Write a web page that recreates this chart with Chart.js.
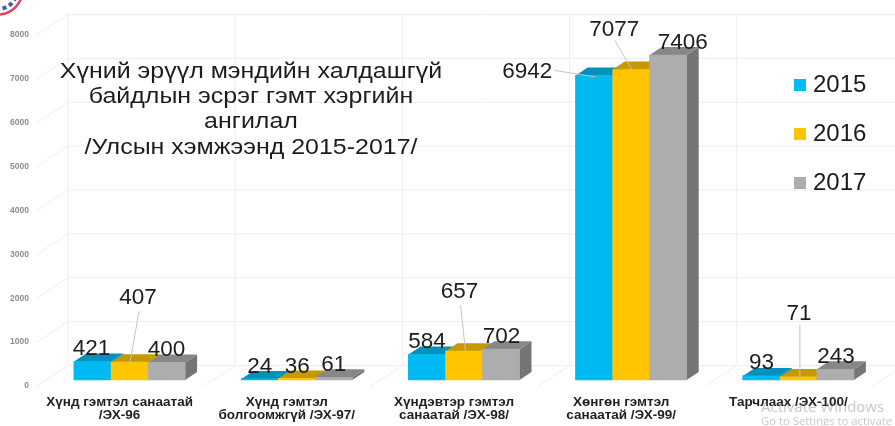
<!DOCTYPE html>
<html>
<head>
<meta charset="utf-8">
<script src="https://cdn.jsdelivr.net/npm/chart.js@4"></script>
<style>
html, body { margin: 0; padding: 0; background: #fff; }
canvas { display: block; }
</style>
</head>
<body>
<canvas id="myChart" width="895" height="426"></canvas>
<script>
var categories = [
    ["Хүнд гэмтэл санаатай", "/ЭХ-96"],
    ["Хүнд гэмтэл", "болгоомжгүй /ЭХ-97/"],
    ["Хүндэвтэр гэмтэл", "санаатай /ЭХ-98/"],
    ["Хөнгөн гэмтэл", "санаатай /ЭХ-99/"],
    "Тарчлаах /ЭХ-100/"
];
var years = ["2015", "2016", "2017"];
var values2015 = [421, 24, 584, 6942, 93];
var values2016 = [407, 36, 657, 7077, 71];
var values2017 = [400, 61, 702, 7406, 243];
var titleLines = [
    "Хүний эрүүл мэндийн халдашгүй",
    "байдлын эсрэг гэмт хэргийн",
    "ангилал",
    "/Улсын хэмжээнд 2015-2017/"
];
var watermark = ["Activate Windows", "Go to Settings to activate"];

// front, top and side colour of each series
var frontColors = ["#00b8f2", "#ffc600", "#adadad"];
var topColors = ["#0091bd", "#c49a00", "#878787"];
var sideColors = ["#0091bd", "#c49a00", "#757575"];

var depthX = 12;
var depthY = 8;

// label centre relative to the top centre of its bar
var labelOffsets = [
    [[-1, -12.5], [0, -12], [0, -12.7], [-67, -4], [0, -13]],
    [[8.5, -64], [0.5, -11.5], [-4.5, -59], [-17, -40], [0.5, -63]],
    [[0, -12.5], [0, -12.3], [0.5, -12.5], [14.5, -12], [0.5, -12.5]]
];
// leader lines: series, category, start relative to the label, end relative to the bar top
var leaders = [
    [1, 0, [1, 13], [0.5, -0.5]],
    [1, 2, [1, 13], [1.5, -0.5]],
    [0, 3, [27, -1], [1.5, 1.5]],
    [1, 3, [0.5, 11], [0.5, -0.5]],
    [1, 4, [1, 11], [1.5, 0]]
];

function drawWalls(chart) {
    var c = chart.ctx;
    var y = chart.scales.y;
    var x = chart.scales.x;
    var wallX = 68;
    var wallTop = y.getPixelForValue(8000) - 14.5;
    var wallBottom = y.getPixelForValue(0) - 14.5;
    c.save();
    c.strokeStyle = "#eeeeee";
    c.lineWidth = 1;
    c.beginPath();
    y.ticks.forEach(function (t) {
        var py = y.getPixelForValue(t.value);
        c.moveTo(36, py + 6.5);
        c.lineTo(wallX, py - 14.5);
        c.lineTo(chart.width, py - 14.5);
    });
    var band = x.getPixelForValue(1) - x.getPixelForValue(0);
    for (var i = 0; i <= categories.length; i++) {
        var wx = wallX + band * i;
        c.moveTo(wx, wallTop);
        c.lineTo(wx, wallBottom);
        c.moveTo(wx, wallBottom);
        c.lineTo(wx - 32, wallBottom + 21);
    }
    c.stroke();
    c.restore();
}

// 2015 first, so each later series covers what sticks out of the one before
function drawBars(chart) {
    var c = chart.ctx;
    chart.data.datasets.forEach(function (ds, index) {
        chart.getDatasetMeta(index).data.forEach(function (bar) {
            var x0 = bar.x - bar.width / 2;
            var x1 = bar.x + bar.width / 2;
            c.fillStyle = sideColors[index];
            c.beginPath();
            c.moveTo(x1, bar.y);
            c.lineTo(x1 + depthX, bar.y - depthY);
            c.lineTo(x1 + depthX, bar.base - depthY);
            c.lineTo(x1, bar.base);
            c.closePath();
            c.fill();
            c.fillStyle = topColors[index];
            c.beginPath();
            c.moveTo(x0, bar.y);
            c.lineTo(x0 + depthX, bar.y - depthY);
            c.lineTo(x1 + depthX, bar.y - depthY);
            c.lineTo(x1, bar.y);
            c.closePath();
            c.fill();
            bar.draw(c);
        });
    });
}

function drawLabels(chart) {
    var c = chart.ctx;
    c.save();
    c.strokeStyle = "#c4c4c4";
    c.lineWidth = 1;
    leaders.forEach(function (l) {
        var bar = chart.getDatasetMeta(l[0]).data[l[1]];
        var off = labelOffsets[l[0]][l[1]];
        c.beginPath();
        c.moveTo(bar.x + off[0] + l[2][0], bar.y + off[1] + l[2][1]);
        c.lineTo(bar.x + l[3][0], bar.y + l[3][1]);
        c.stroke();
    });
    c.fillStyle = "#1c1c1c";
    c.font = "22.5px 'Liberation Sans', Arial, sans-serif";
    c.textAlign = "center";
    c.textBaseline = "middle";
    chart.data.datasets.forEach(function (ds, i) {
        chart.getDatasetMeta(i).data.forEach(function (bar, j) {
            var off = labelOffsets[i][j];
            c.fillText(ds.data[j], bar.x + off[0], bar.y + off[1]);
        });
    });
    c.restore();
}

function drawTitle(chart) {
    var c = chart.ctx;
    c.save();
    c.translate(251, 0);
    c.scale(1.135, 1);
    c.fillStyle = "#1c1c1c";
    c.font = "22px 'Liberation Sans', Arial, sans-serif";
    c.textAlign = "center";
    c.textBaseline = "middle";
    titleLines.forEach(function (line, i) {
        c.fillText(line, 0, 72 + i * 25.2);
    });
    c.restore();
}

function drawLegend(chart) {
    var c = chart.ctx;
    c.save();
    c.textAlign = "left";
    c.textBaseline = "middle";
    c.font = "24px 'Liberation Sans', Arial, sans-serif";
    chart.data.datasets.forEach(function (ds, i) {
        var ly = 85 + i * 49;
        c.fillStyle = ds.backgroundColor;
        c.fillRect(794, ly - 6, 12, 12);
        c.fillStyle = "#1c1c1c";
        c.fillText(ds.label, 813, ly);
    });
    c.restore();
}

function drawExtras(chart) {
    var c = chart.ctx;
    c.save();
    // corner of the logo
    c.lineWidth = 2.5;
    c.strokeStyle = "#e8415f";
    c.beginPath();
    c.arc(-2, -10, 24.5, 0, Math.PI);
    c.stroke();
    c.lineWidth = 4;
    c.strokeStyle = "#3a62ad";
    c.setLineDash([4, 3]);
    c.beginPath();
    c.arc(-2, -10, 19, 0, Math.PI);
    c.stroke();
    c.setLineDash([]);
    // watermark
    c.fillStyle = "rgba(130,130,130,0.45)";
    c.textAlign = "left";
    c.textBaseline = "middle";
    c.font = "15px 'Open Sans', sans-serif";
    c.fillText(watermark[0], 761, 407.5);
    c.font = "11.3px 'Open Sans', sans-serif";
    c.fillText(watermark[1], 761, 422);
    c.restore();
}

var wallsAndFaces = {
    id: "wallsAndFaces",
    beforeDatasetsDraw: function (chart) {
        drawWalls(chart);
    },
    afterDatasetsDraw: function (chart) {
        drawBars(chart);
        drawLabels(chart);
        drawTitle(chart);
        drawLegend(chart);
        drawExtras(chart);
    }
};

var ctx = document.getElementById("myChart").getContext("2d");
var myChart = new Chart(ctx, {
    type: "bar",
    plugins: [wallsAndFaces],
    data: {
        labels: categories,
        datasets: [
            { label: years[0], data: values2015, backgroundColor: frontColors[0], barThickness: 37 },
            { label: years[1], data: values2016, backgroundColor: frontColors[1], barThickness: 37 },
            { label: years[2], data: values2017, backgroundColor: frontColors[2], barThickness: 37 }
        ]
    },
    options: {
        responsive: false,
        animation: false,
        layout: { padding: { top: 29, right: 13, left: 0, bottom: 0 } },
        plugins: {
            legend: { display: false },
            title: { display: false },
            tooltip: { enabled: false }
        },
        scales: {
            x: {
                grid: { display: false },
                border: { display: false },
                afterFit: function (s) { s.height = 46; },
                ticks: {
                    color: "#1f1f1f",
                    font: { family: "'Liberation Sans', Arial, sans-serif", size: 13.5, weight: "bold", lineHeight: 0.96 },
                    padding: 8,
                    labelOffset: -10,
                    maxRotation: 0,
                    autoSkip: false
                }
            },
            y: {
                min: 0,
                max: 8000,
                grid: { display: false, drawTicks: false },
                border: { display: false },
                afterFit: function (s) { s.width = 46; },
                ticks: {
                    stepSize: 1000,
                    callback: function (v) { return String(v); },
                    color: "#8c8c8c",
                    font: { family: "'Liberation Sans', Arial, sans-serif", size: 8.5, weight: "bold" },
                    padding: 17,
                    labelOffset: 6
                }
            }
        }
    }
});
</script>
</body>
</html>
